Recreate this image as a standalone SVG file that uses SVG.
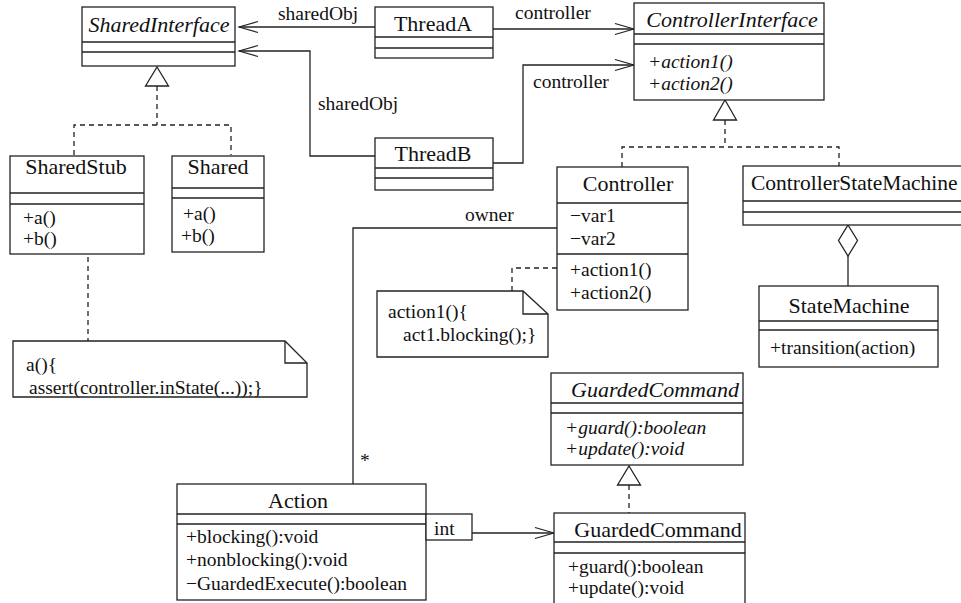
<svg xmlns="http://www.w3.org/2000/svg" width="961" height="603" viewBox="0 0 961 603" font-family="Liberation Serif, Times New Roman, serif">
<defs>
<style>
.box{fill:#fff;stroke:#222;stroke-width:1.3}
.sep{stroke:#222;stroke-width:1.3;fill:none}
.t{font-size:22px;text-anchor:middle;fill:#111}
.ti{font-size:22px;text-anchor:middle;font-style:italic;fill:#111}
.m{font-size:19.5px;fill:#111}
.mi{font-size:19.5px;font-style:italic;fill:#111}
.ln{fill:none;stroke:#222;stroke-width:1.3}
.dash{fill:none;stroke:#222;stroke-width:1.3;stroke-dasharray:5,4}
.tri{fill:#fff;stroke:#222;stroke-width:1.3}
.arr{marker-end:url(#open)}
</style>
<marker id="open" markerUnits="userSpaceOnUse" markerWidth="22" markerHeight="14" viewBox="-20 -7 22 14" refX="0" refY="0" orient="auto">
<path d="M-19,-5.5 L0,0 L-19,5.5" fill="none" stroke="#222" stroke-width="1.3"/>
</marker>
</defs>

<g id="connectors">
<path class="ln arr" d="M375,27 H239"/>
<path class="ln arr" d="M493,29 H634"/>
<path class="ln arr" d="M375,156 H310 V51 H239"/>
<path class="ln arr" d="M493,163 H523 V65 H634"/>
<path class="dash" d="M157,86 V125"/>
<path class="dash" d="M74,155 V125 H231 V155"/>
<polygon class="tri" points="157,67 168.5,86 145.5,86"/>
<path class="dash" d="M725,120 V147"/>
<path class="dash" d="M622,167 V147 H839 V166"/>
<polygon class="tri" points="725,100 736.5,120 713.5,120"/>
<path class="ln" d="M848,256 V286"/>
<polygon class="tri" points="848,225 857.5,240.5 848,256 838.5,240.5"/>
<path class="ln" d="M557,228 H353 V484"/>
<text class="m" x="465" y="221">owner</text>
<text class="m" x="360" y="467">*</text>
<path class="ln arr" d="M472,533 H554"/>
<path class="dash" d="M629,485 V513"/>
<polygon class="tri" points="629,466 640.5,485 617.5,485"/>
<path class="dash" d="M62,220 H88 V341"/>
<path class="dash" d="M557,268 H512 V291"/>
<text class="m" x="278" y="20">sharedObj</text>
<text class="m" x="318" y="110">sharedObj</text>
<text class="m" x="515" y="19">controller</text>
<text class="m" x="533" y="88">controller</text>
</g>

<g id="SharedInterface">
<rect class="box" x="82" y="7" width="153" height="59"/>
<path class="sep" d="M82,42 H235 M82,52 H235"/>
<text class="ti" x="159" y="32">SharedInterface</text>
</g>

<g id="ThreadA">
<rect class="box" x="375" y="7" width="118" height="51"/>
<path class="sep" d="M375,37 H493 M375,48 H493"/>
<text class="t" x="433" y="31">ThreadA</text>
</g>

<g id="ThreadB">
<rect class="box" x="375" y="138" width="118" height="52"/>
<path class="sep" d="M375,168 H493 M375,178 H493"/>
<text class="t" x="433" y="161">ThreadB</text>
</g>

<g id="ControllerInterface">
<rect class="box" x="634" y="3" width="190" height="97"/>
<path class="sep" d="M634,34 H824 M634,44 H824"/>
<text class="ti" x="732" y="27">ControllerInterface</text>
<text class="mi" x="648" y="68">+action1()</text>
<text class="mi" x="648" y="90">+action2()</text>
</g>

<g id="SharedStub">
<rect class="box" x="10" y="156" width="134" height="98"/>
<path class="sep" d="M10,193 H144 M10,204 H144"/>
<text class="t" x="76" y="174">SharedStub</text>
<text class="m" x="23" y="224">+a()</text>
<text class="m" x="23" y="245">+b()</text>
</g>

<g id="Shared">
<rect class="box" x="172" y="156" width="92" height="96"/>
<path class="sep" d="M172,188 H264 M172,198 H264"/>
<text class="t" x="218" y="174">Shared</text>
<text class="m" x="183" y="220">+a()</text>
<text class="m" x="181" y="242">+b()</text>
</g>

<g id="Controller">
<rect class="box" x="557" y="167" width="131" height="143"/>
<path class="sep" d="M557,203 H688 M557,254 H688"/>
<text class="t" x="628" y="191">Controller</text>
<text class="m" x="570" y="222">−var1</text>
<text class="m" x="570" y="245">−var2</text>
<text class="m" x="570" y="276">+action1()</text>
<text class="m" x="570" y="299">+action2()</text>
</g>

<g id="ControllerStateMachine">
<rect class="box" x="743" y="166" width="230" height="59"/>
<path class="sep" d="M743,201 H973 M743,212 H973"/>
<text class="t" x="751" y="190" style="text-anchor:start;font-size:21.5px">ControllerStateMachine</text>
</g>

<g id="StateMachine">
<rect class="box" x="759" y="286" width="179" height="81"/>
<path class="sep" d="M759,321 H938 M759,330 H938"/>
<text class="t" x="849" y="313">StateMachine</text>
<text class="m" x="770" y="354">+transition(action)</text>
</g>

<g id="note1">
<path class="box" d="M13,341 H285 L307,363 V397 H13 Z"/>
<path class="sep" d="M285,341 V363 H307"/>
<text class="m" x="26" y="371">a(){</text>
<text class="m" x="29" y="394">assert(controller.inState(...));}</text>
</g>

<g id="note2">
<path class="box" d="M377,291 H523 L548,314 V357 H377 Z"/>
<path class="sep" d="M523,291 V314 H548"/>
<text class="m" x="388" y="318">action1(){</text>
<text class="m" x="403" y="341">act1.blocking();}</text>
</g>

<g id="GuardedCommandInterface">
<rect class="box" x="551" y="373" width="192" height="92"/>
<path class="sep" d="M551,403 H743 M551,413 H743"/>
<text class="ti" x="655" y="397">GuardedCommand</text>
<text class="mi" x="565" y="434">+guard():boolean</text>
<text class="mi" x="565" y="455">+update():void</text>
</g>

<g id="GuardedCommand">
<rect class="box" x="554" y="513" width="191" height="110"/>
<path class="sep" d="M554,542 H745 M554,553 H745"/>
<text class="t" x="658" y="537">GuardedCommand</text>
<text class="m" x="568" y="573">+guard():boolean</text>
<text class="m" x="568" y="594">+update():void</text>
</g>

<g id="Action">
<rect class="box" x="177" y="484" width="249" height="116"/>
<path class="sep" d="M177,514 H426 M177,524 H426"/>
<text class="t" x="298" y="508">Action</text>
<text class="m" x="186" y="543">+blocking():void</text>
<text class="m" x="186" y="566">+nonblocking():void</text>
<text class="m" x="186" y="590">−GuardedExecute():boolean</text>
<rect class="box" x="426" y="514" width="46" height="26"/>
<text class="m" x="434" y="535">int</text>
</g>
</svg>
